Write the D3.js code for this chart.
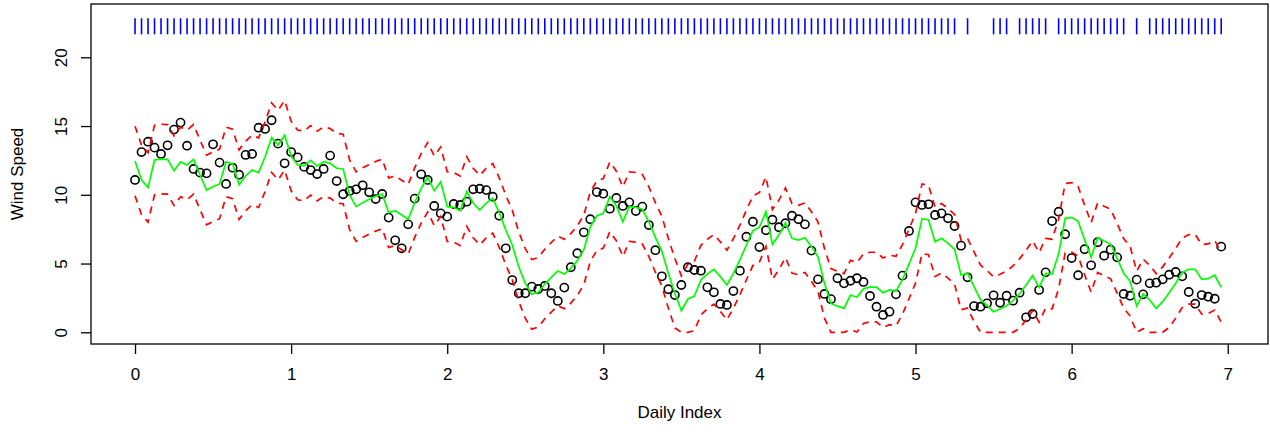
<!DOCTYPE html>
<html>
<head>
<meta charset="utf-8">
<script src="https://cdn.jsdelivr.net/npm/d3@7"></script>
<style>
  body { margin: 0; background: #fff; }
  svg { display: block; font-family: "Liberation Sans", Arial, Helvetica, sans-serif; }
</style>
</head>
<body>
<div class="chart"></div>
<script>

// hourly observations, one per 1/24 of a day
var observed = [11.08,13.11,13.86,13.43,12.97,13.6,14.74,15.25,13.57,11.88,11.61,11.56,13.67,12.34,10.79,11.97,11.46,12.9,12.97,14.88,14.79,15.42,13.72,12.29,
  13.11,12.72,12.03,11.8,11.51,11.88,12.85,11.0,10.04,10.28,10.4,10.69,10.18,9.69,10.06,8.34,6.69,6.11,7.85,9.72,11.49,11.08,9.19,8.65,
  8.41,9.33,9.26,9.5,10.4,10.44,10.34,9.86,8.48,6.11,3.8,2.84,2.84,3.32,3.15,3.37,2.84,2.28,3.25,4.73,5.75,7.27,8.22,10.2,
  10.08,8.99,9.77,9.19,9.45,8.82,9.14,7.8,5.97,4.07,3.13,2.71,3.44,4.73,4.53,4.48,3.27,2.91,2.06,1.99,3.0,4.48,6.95,8.04,
  6.2,7.42,8.19,7.64,7.93,8.48,8.22,7.85,5.94,3.85,2.79,2.41,3.93,3.56,3.75,3.93,3.66,2.64,1.86,1.26,1.5,2.76,4.12,7.37,
  9.45,9.26,9.31,8.53,8.65,8.29,7.73,6.3,4.0,1.91,1.86,2.11,2.69,2.15,2.66,2.3,2.88,1.09,1.33,3.08,4.36,8.09,8.77,7.13,
  5.4,4.15,6.04,4.87,6.55,5.57,6.01,5.45,2.79,2.66,3.83,2.76,3.56,3.61,3.85,4.19,4.39,4.07,2.93,2.08,2.71,2.59,2.44,6.23];

var fitted = [12.46,11.08,10.54,12.53,12.6,12.58,11.75,12.39,12.17,12.58,11.44,10.35,10.59,10.79,12.39,12.24,10.74,11.37,11.8,11.61,12.77,14.15,13.62,14.33,
  12.82,12.17,12.1,12.5,12.09,12.41,12.29,11.93,11.88,9.99,9.14,9.43,9.67,9.89,10.06,8.7,8.84,8.53,8.22,9.43,10.47,11.27,10.3,10.95,
  9.14,9.09,8.84,10.23,9.4,8.89,9.4,9.74,8.7,7.44,6.35,4.77,3.56,2.76,2.91,3.51,4.0,4.46,4.24,4.65,5.21,5.99,7.68,8.48,
  8.65,9.86,9.19,8.04,9.14,9.09,8.95,8.04,6.9,5.9,4.29,2.84,1.57,2.42,2.64,3.8,4.24,4.58,4.05,3.44,4.29,5.26,6.35,7.39,
  7.64,8.77,6.4,7.08,7.97,6.84,6.71,6.88,6.23,5.5,3.56,2.1,1.9,1.74,2.71,2.55,3.17,3.29,3.29,2.88,3.08,3.0,3.85,4.97,
  6.11,8.26,8.17,6.59,6.84,6.47,6.04,4.17,4.29,3.32,2.35,1.96,1.5,1.69,1.93,2.3,2.81,3.44,4.12,3.27,4.29,4.24,5.69,8.29,
  8.36,8.07,6.71,5.45,6.88,6.64,6.42,5.38,4.29,3.71,1.91,2.79,2.35,1.74,2.23,2.88,3.56,4.33,4.58,4.58,3.85,3.9,4.15,3.27];

var upper = [14.99,13.61,13.07,15.06,15.13,15.11,14.28,14.92,14.70,15.11,13.97,12.88,13.12,13.32,14.92,14.77,13.27,13.90,14.33,14.14,15.30,16.68,16.15,16.86,
  15.35,14.70,14.63,15.03,14.62,14.94,14.82,14.46,14.41,12.52,11.67,11.96,12.20,12.42,12.59,11.23,11.37,11.06,10.75,11.96,13.00,13.80,12.83,13.48,
  11.67,11.62,11.37,12.76,11.93,11.42,11.93,12.27,11.23,9.97,8.88,7.30,6.09,5.29,5.44,6.04,6.53,6.99,6.77,7.18,7.74,8.52,10.21,11.01,
  11.18,12.39,11.72,10.57,11.67,11.62,11.48,10.57,9.43,8.43,6.82,5.37,4.10,4.95,5.17,6.33,6.77,7.11,6.58,5.97,6.82,7.79,8.88,9.92,
  10.17,11.30,8.93,9.61,10.50,9.37,9.24,9.41,8.76,8.03,6.09,4.63,4.43,4.27,5.24,5.08,5.70,5.82,5.82,5.41,5.61,5.53,6.38,7.50,
  8.64,10.79,10.70,9.12,9.37,9.00,8.57,6.70,6.82,5.85,4.88,4.49,4.03,4.22,4.46,4.83,5.34,5.97,6.65,5.80,6.82,6.77,8.22,10.82,
  10.89,10.60,9.24,7.98,9.41,9.17,8.95,7.91,6.82,6.24,4.44,5.32,4.88,4.27,4.76,5.41,6.09,6.86,7.11,7.11,6.38,6.43,6.68,5.80];

var lower = [9.93,8.55,8.01,10.00,10.07,10.05,9.22,9.86,9.64,10.05,8.91,7.82,8.06,8.26,9.86,9.71,8.21,8.84,9.27,9.08,10.24,11.62,11.09,11.80,
  10.29,9.64,9.57,9.97,9.56,9.88,9.76,9.40,9.35,7.46,6.61,6.90,7.14,7.36,7.53,6.17,6.31,6.00,5.69,6.90,7.94,8.74,7.77,8.42,
  6.61,6.56,6.31,7.70,6.87,6.36,6.87,7.21,6.17,4.91,3.82,2.24,1.03,0.23,0.38,0.98,1.47,1.93,1.71,2.12,2.68,3.46,5.15,5.95,
  6.12,7.33,6.66,5.51,6.61,6.56,6.42,5.51,4.37,3.37,1.76,0.31,0,0,0.11,1.27,1.71,2.05,1.52,0.91,1.76,2.73,3.82,4.86,
  5.11,6.24,3.87,4.55,5.44,4.31,4.18,4.35,3.70,2.97,1.03,0,0,0,0.18,0.02,0.64,0.76,0.76,0.35,0.55,0.47,1.32,2.44,
  3.58,5.73,5.64,4.06,4.31,3.94,3.51,1.64,1.76,0.79,0,0,0,0,0,0,0.28,0.91,1.59,0.74,1.76,1.71,3.16,5.76,
  5.83,5.54,4.18,2.92,4.35,4.11,3.89,2.85,1.76,1.18,0,0.26,0,0,0,0.35,1.03,1.80,2.05,2.05,1.32,1.37,1.62,0.74];

// hours with no blue mark in the top strip
var rugMissing = [127, 129, 130, 131, 135, 141, 153, 155];

var xTicks = [0, 1, 2, 3, 4, 5, 6, 7];
var yTicks = [0, 5, 10, 15, 20];

var width = 1270;
var height = 432;
var box = {left: 91, right: 1268, top: 4, bottom: 344};
var fontSize = '17px';

var svg = d3.select('.chart')
    .append('svg')
    .attr('width', width)
    .attr('height', height);

var x = d3.scaleLinear().domain([-0.282, 7.258]).range([box.left, box.right]);
var y = d3.scaleLinear().domain([-0.851, 23.876]).range([box.bottom, box.top]);

var hours = observed.map((d, i) => i / 24);

svg.append('clipPath').attr('id', 'plotclip')
    .append('rect')
    .attr('x', box.left).attr('y', box.top)
    .attr('width', box.right - box.left).attr('height', box.bottom - box.top);

var plot = svg.append('g').attr('clip-path', 'url(#plotclip)');

// observed points
plot.selectAll('circle')
    .data(observed)
    .enter()
    .append('circle')
    .attr('cx', (d, i) => x(hours[i]))
    .attr('cy', d => y(d))
    .attr('r', 4.1)
    .attr('fill', 'none')
    .attr('stroke', '#000')
    .attr('stroke-width', 1.6);

var line = d3.line()
    .x((d, i) => x(hours[i]))
    .y(d => y(d));

plot.append('path')
    .datum(fitted)
    .attr('d', line)
    .attr('fill', 'none')
    .attr('stroke', '#00ff00')
    .attr('stroke-width', 1.7);

[upper, lower].forEach(function (band) {
    plot.append('path')
        .datum(band)
        .attr('d', line)
        .attr('fill', 'none')
        .attr('stroke', '#ff0000')
        .attr('stroke-width', 1.7)
        .attr('stroke-dasharray', '7,6');
});

// blue strip along the top
var rugHours = hours.filter((d, i) => rugMissing.indexOf(i) < 0);
plot.selectAll('.rug')
    .data(rugHours)
    .enter()
    .append('line')
    .attr('class', 'rug')
    .attr('x1', d => x(d)).attr('x2', d => x(d))
    .attr('y1', y(21.67)).attr('y2', y(22.84))
    .attr('stroke', '#0000ff')
    .attr('stroke-width', 1.6);

// frame
svg.append('rect')
    .attr('x', box.left).attr('y', box.top)
    .attr('width', box.right - box.left).attr('height', box.bottom - box.top)
    .attr('fill', 'none')
    .attr('stroke', '#000')
    .attr('stroke-width', 1.3);

var axisX = d3.axisBottom(x).tickValues(xTicks).tickSize(10).tickPadding(14).tickFormat(d3.format('d'));
var gx = svg.append('g')
    .attr('transform', 'translate(0,' + box.bottom + ')')
    .call(axisX);
gx.select('.domain').remove();
gx.selectAll('line').attr('stroke-width', 1.3);
gx.selectAll('text').style('font-size', fontSize).attr('fill', '#000');

var axisY = d3.axisLeft(y).tickValues(yTicks).tickSize(10).tickFormat(d3.format('d'));
var gy = svg.append('g')
    .attr('transform', 'translate(' + box.left + ',0)')
    .call(axisY);
gy.select('.domain').remove();
gy.selectAll('line').attr('stroke-width', 1.3);
gy.selectAll('text')
    .attr('x', 0).attr('y', 0).attr('dy', 0)
    .attr('transform', 'translate(-24,0) rotate(-90)')
    .style('text-anchor', 'middle')
    .style('font-size', fontSize)
    .attr('fill', '#000');

svg.append('text')
    .attr('x', (box.left + box.right) / 2)
    .attr('y', 418)
    .style('text-anchor', 'middle')
    .style('font-size', fontSize)
    .text('Daily Index');

svg.append('text')
    .attr('transform', 'translate(23,' + ((box.top + box.bottom) / 2) + ') rotate(-90)')
    .style('text-anchor', 'middle')
    .style('font-size', fontSize)
    .text('Wind Speed');

</script>
</body>
</html>
